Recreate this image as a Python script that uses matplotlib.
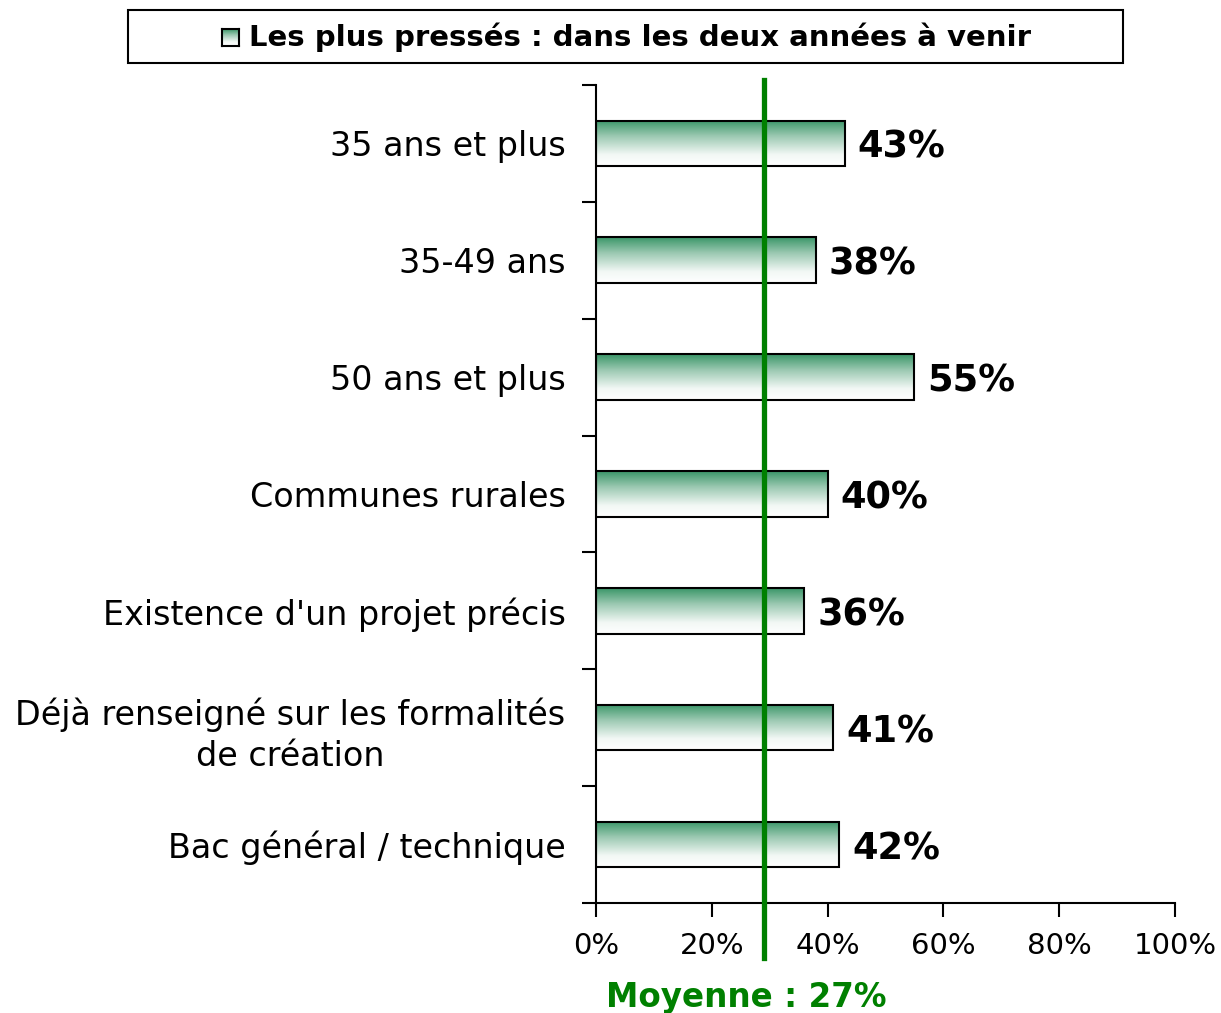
import numpy as np
import matplotlib
matplotlib.use("Agg")
import matplotlib.pyplot as plt
from matplotlib.patches import Rectangle
from matplotlib.colors import LinearSegmentedColormap

# Data
categories = [
    "35 ans et plus",
    "35-49 ans",
    "50 ans et plus",
    "Communes rurales",
    "Existence d'un projet précis",
    "Déjà renseigné sur les formalités\nde création",
    "Bac général / technique",
]
values = [43, 38, 55, 40, 36, 41, 42]
value_labels = ["43%", "38%", "55%", "40%", "36%", "41%", "42%"]
x_ticks = [0, 20, 40, 60, 80, 100]
x_tick_labels = ["0%", "20%", "40%", "60%", "80%", "100%"]
moyenne_pos = 29  # where the line is drawn in the original
moyenne_label = "Moyenne : 27%"
legend_label = "Les plus pressés : dans les deux années à venir"

green = "#008000"
grad = LinearSegmentedColormap.from_list(
    "grad", [(0.0, "#3a9668"), (0.35, "#9cc9b2"), (0.75, "#f2f8f5"), (1.0, "#ffffff")])
gradient = np.linspace(0, 1, 256).reshape(-1, 1)

fig = plt.figure(figsize=(12.21, 10.13), dpi=100)
ax = fig.add_axes([0.4881, 0.1086, 0.4742, 0.8075])

bar_h = 0.39
y = np.arange(len(categories))
for yi, v in zip(y, values):
    ax.imshow(gradient, cmap=grad, aspect="auto", interpolation="bilinear",
              extent=(0, v, yi + bar_h / 2, yi - bar_h / 2), zorder=2)
    ax.add_patch(Rectangle((0, yi - bar_h / 2), v, bar_h, fill=False,
                           edgecolor="black", linewidth=1.5, zorder=3))

for yi, v, lab in zip(y, values, value_labels):
    ax.text(v + 2.2, yi, lab, ha="left", va="center_baseline", fontsize=26.5,
            fontweight="bold", color="black")

ax.set_xlim(0, 100)
ax.set_ylim(len(categories) - 0.5, -0.5)

ax.set_yticks(y)
ax.set_yticklabels(categories, fontsize=24, multialignment="center",
                   linespacing=1.3)
ax.set_yticks(np.arange(-0.5, len(categories)), minor=True)
ax.tick_params(axis="y", which="major", length=0, pad=22)
ax.tick_params(axis="y", which="minor", length=10, width=1.5, direction="out")

ax.set_xticks(x_ticks)
ax.set_xticklabels(x_tick_labels, fontsize=21)
ax.tick_params(axis="x", which="major", length=10, width=1.5, direction="out", pad=11)

for s in ["top", "right"]:
    ax.spines[s].set_visible(False)
for s in ["left", "bottom"]:
    ax.spines[s].set_linewidth(1.5)

# average line extending beyond the axes
ax.axvline(moyenne_pos, ymin=-0.067, ymax=1.006, color=green, linewidth=3.8,
           clip_on=False, zorder=4)
fig.text(746 / 1221, 1 - 997 / 1013, moyenne_label, ha="center", va="center",
         fontsize=23.5, fontweight="bold", color=green)

# legend box
fig.patches.append(Rectangle((128 / 1221, 1 - 63 / 1013), 995 / 1221, 53 / 1013,
                             transform=fig.transFigure, fill=False,
                             edgecolor="black", linewidth=1.5))
lax = fig.add_axes([222 / 1221, 1 - 46 / 1013, 17 / 1221, 17 / 1013])
lax.imshow(gradient, cmap=grad, aspect="auto", extent=(0, 1, 1, 0))
lax.set_xticks([])
lax.set_yticks([])
for s in lax.spines.values():
    s.set_linewidth(1.5)
fig.text(249 / 1221, 1 - 37 / 1013, legend_label, ha="left", va="center",
         fontsize=21, fontweight="bold")

fig.savefig("out.png", dpi=100)
